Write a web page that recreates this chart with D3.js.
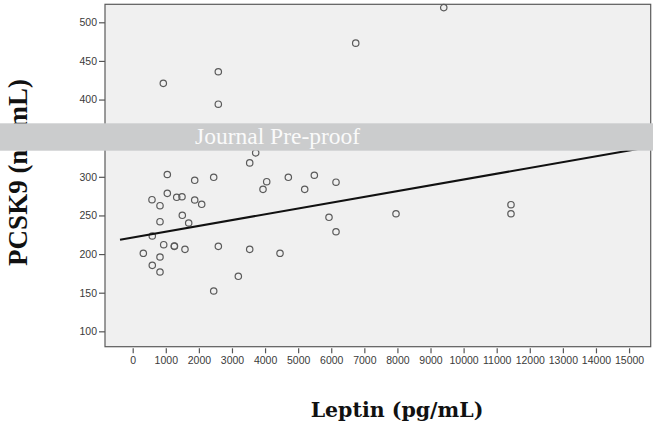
<!DOCTYPE html>
<html>
<head>
<meta charset="utf-8">
<script src="https://cdn.jsdelivr.net/npm/d3@7"></script>
<style>
  body { margin: 0; background: #fff; }
  svg { display: block; }
</style>
</head>
<body>
<div id="chart"></div>
<script>
// values
var leptin = [9400, 6740, 2587, 925, 2587,
  3717, 3536, 1046, 1874, 2448, 4050, 3938, 4703, 5489, 5198, 6144,
  583, 825, 1046, 1330, 1490, 1874, 2085, 1499, 825, 1692, 5932, 6144,
  592, 937, 1257, 1262, 1580, 2588, 3536, 4452, 321, 825, 592, 825,
  3192, 2448, 7957, 11432, 11432];
var pcsk9 = [519, 473, 436, 421, 394,
  331, 318, 303, 295.5, 299.4, 293.7, 283.8, 299.4, 302, 283.8, 293,
  270.4, 262.6, 278.6, 273.5, 274.2, 270, 264.4, 250.2, 241.9, 240.2, 247.6, 228.9,
  223.4, 212.1, 210, 210.5, 206.1, 210, 206.1, 201, 201, 196.2, 185.4, 176.8,
  171.2, 152.2, 252.2, 263.9, 252.2];

// fit line end points
var fitLeptin = [-384, 15650];
var fitPcsk9 = [218.6, 338.9];

var xTicks = d3.range(0, 15001, 1000);
var yTicks = [100, 150, 200, 250, 300, 350, 400, 450, 500];

var width = 653, height = 435;
var plot = { left: 105, top: 4.3, right: 650.7, bottom: 346.7 };

var svg = d3.select('#chart').append('svg')
    .attr('width', width)
    .attr('height', height);

var x = d3.scaleLinear().domain([-837, 15654]).range([plot.left, plot.right]);
var y = d3.scaleLinear().domain([80.1, 523.3]).range([plot.bottom, plot.top]);

// plot background
svg.append('rect')
    .attr('x', plot.left)
    .attr('y', plot.top)
    .attr('width', plot.right - plot.left)
    .attr('height', plot.bottom - plot.top)
    .attr('fill', '#f0f0f0');

// axes
var yAxis = svg.append('g')
    .attr('transform', 'translate(' + plot.left + ',0)')
    .call(d3.axisLeft(y).tickValues(yTicks).tickSize(6).tickPadding(2));

var xAxis = svg.append('g')
    .attr('transform', 'translate(0,' + (plot.bottom + 1.6) + ')')
    .call(d3.axisBottom(x).tickValues(xTicks).tickSize(5).tickPadding(3).tickFormat(d3.format('d')));

[xAxis, yAxis].forEach(function (g) {
  g.select('.domain').remove();
  g.selectAll('line').attr('stroke', '#555').attr('stroke-width', 1.2);
  g.selectAll('text')
      .attr('fill', '#3a3a3a')
      .style('font-family', '"Liberation Sans", Arial, sans-serif')
      .style('font-size', '10.5px');
});

// points
svg.append('g').selectAll('circle')
    .data(leptin)
    .enter()
    .append('circle')
    .attr('cx', function (d) { return x(d); })
    .attr('cy', function (d, i) { return y(pcsk9[i]); })
    .attr('r', 3.2)
    .attr('fill', 'none')
    .attr('stroke', '#5a5a5a')
    .attr('stroke-width', 1.2);

// fit line
svg.append('line')
    .attr('x1', x(fitLeptin[0]))
    .attr('y1', y(fitPcsk9[0]))
    .attr('x2', x(fitLeptin[1]))
    .attr('y2', y(fitPcsk9[1]))
    .attr('stroke', '#111')
    .attr('stroke-width', 2);

// frame
svg.append('rect')
    .attr('x', plot.left)
    .attr('y', plot.top)
    .attr('width', plot.right - plot.left)
    .attr('height', plot.bottom - plot.top)
    .attr('fill', 'none')
    .attr('stroke', '#5a5a5a')
    .attr('stroke-width', 1.2);

// axis titles
svg.append('text')
    .attr('transform', 'translate(27,172.5) rotate(-90)')
    .attr('text-anchor', 'middle')
    .style('font-family', '"Liberation Serif", "Times New Roman", serif')
    .style('font-weight', 'bold')
    .style('font-size', '27px')
    .attr('fill', '#111')
    .text('PCSK9 (ng/mL)');

svg.append('text')
    .attr('x', 397)
    .attr('y', 416.7)
    .attr('text-anchor', 'middle')
    .style('font-family', '"DejaVu Serif", serif')
    .style('font-weight', 'bold')
    .style('font-size', '20.5px')
    .attr('fill', '#111')
    .text('Leptin (pg/mL)');

// watermark band
svg.append('rect')
    .attr('x', 0)
    .attr('y', 123.3)
    .attr('width', width)
    .attr('height', 27.4)
    .attr('fill', '#cbcccd');

svg.append('text')
    .attr('x', 195)
    .attr('y', 144.3)
    .style('font-family', '"Liberation Serif", "Times New Roman", serif')
    .style('font-size', '23.5px')
    .attr('fill', '#fafafa')
    .text('Journal Pre-proof');
</script>
</body>
</html>
